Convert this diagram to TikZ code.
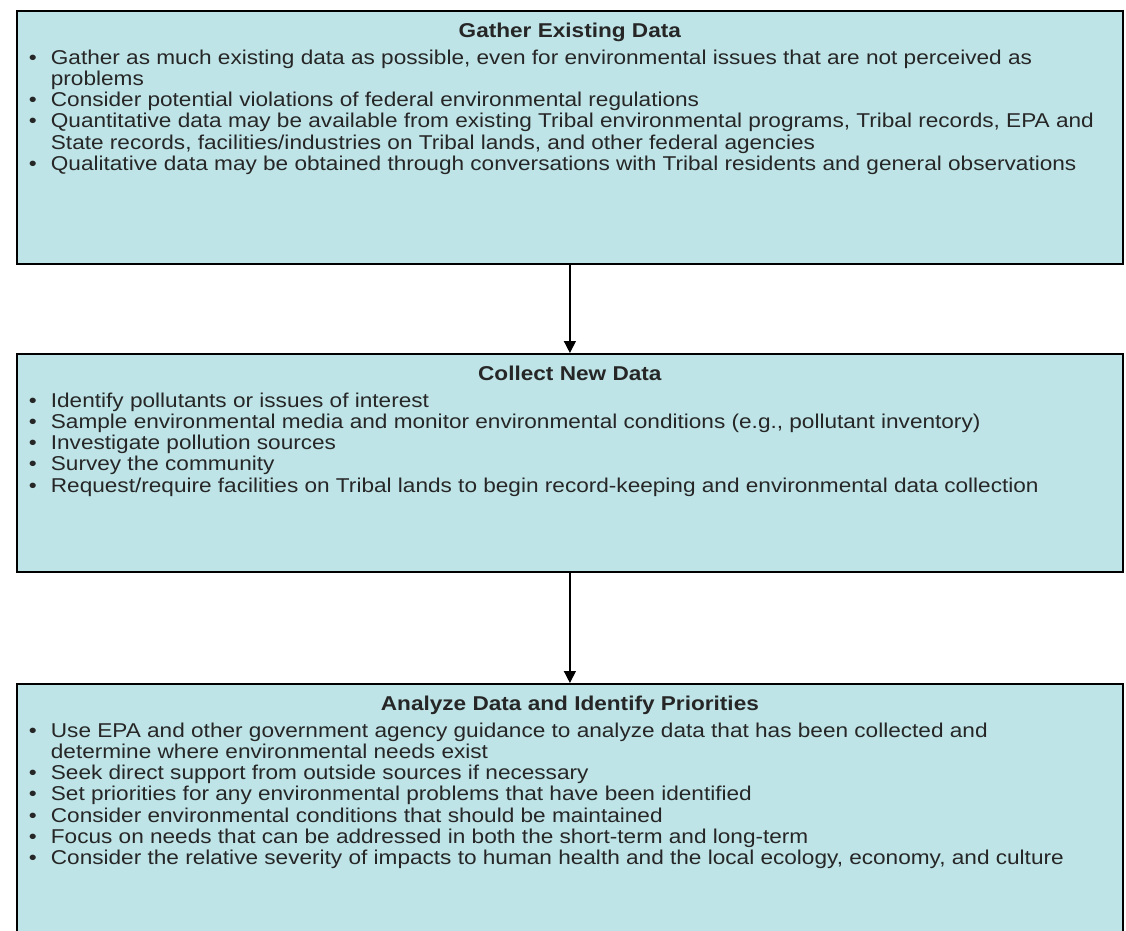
\documentclass[tikz,border=0pt]{standalone}
\usepackage{fontspec}
\setmainfont{Liberation Sans}
\newfontfamily\stagefont[FakeStretch=1.13]{Liberation Sans}
\usepackage{enumitem}
\usetikzlibrary{arrows.meta,positioning}

\definecolor{stagefill}{RGB}{190,228,231}
\definecolor{stagetext}{RGB}{38,38,38}

% box contents: height, title, items
\newcommand{\stagebody}[3]{%
  \parbox[c][#1][t]{545pt}{\stagefont\fontsize{10pt}{10.6pt}\selectfont
    \vspace*{6pt}\centering\textbf{#2}\par\raggedright
    \begin{itemize}[label=\textbullet,leftmargin=13pt,labelsep=7pt,
        topsep=2.9pt,partopsep=0pt,itemsep=0pt,parsep=0pt]
    #3
    \end{itemize}}}

\begin{document}
\begin{tikzpicture}[x=0.5pt,y=-0.5pt]
	\useasboundingbox (0,0) rectangle (1126,931);

	\begin{scope}[every node/.style={draw=black,line width=0.9pt,fill=stagefill,
			text=stagetext,anchor=north west,inner xsep=4pt,inner ysep=0pt}]
		\node (gather) at (16,10) {\stagebody{126.5pt}{Gather Existing Data}{
			\item Gather as much existing data as possible, even for environmental issues that are not perceived as\newline problems
			\item Consider potential violations of federal environmental regulations
			\item Quantitative data may be available from existing Tribal environmental programs, Tribal records, EPA and\newline State records, facilities/industries on Tribal lands, and other federal agencies
			\item Qualitative data may be obtained through conversations with Tribal residents and general observations}};
		\node (collect) at (16,353) {\stagebody{109pt}{Collect New Data}{
			\item Identify pollutants or issues of interest
			\item Sample environmental media and monitor environmental conditions (e.g., pollutant inventory)
			\item Investigate pollution sources
			\item Survey the community
			\item Request/require facilities on Tribal lands to begin record-keeping and environmental data collection}};
		\node (analyze) at (16,683) {\stagebody{128.5pt}{Analyze Data and Identify Priorities}{
			\item Use EPA and other government agency guidance to analyze data that has been collected and\newline determine where environmental needs exist
			\item Seek direct support from outside sources if necessary
			\item Set priorities for any environmental problems that have been identified
			\item Consider environmental conditions that should be maintained
			\item Focus on needs that can be addressed in both the short-term and long-term
			\item Consider the relative severity of impacts to human health and the local ecology, economy, and culture}};
	\end{scope}

	\begin{scope}[>={Triangle[width=6pt,length=6pt]},line width=0.7pt]
		\path (gather) edge[->] (collect);
		\path (collect) edge[->] (analyze);
	\end{scope}
\end{tikzpicture}
\end{document}
